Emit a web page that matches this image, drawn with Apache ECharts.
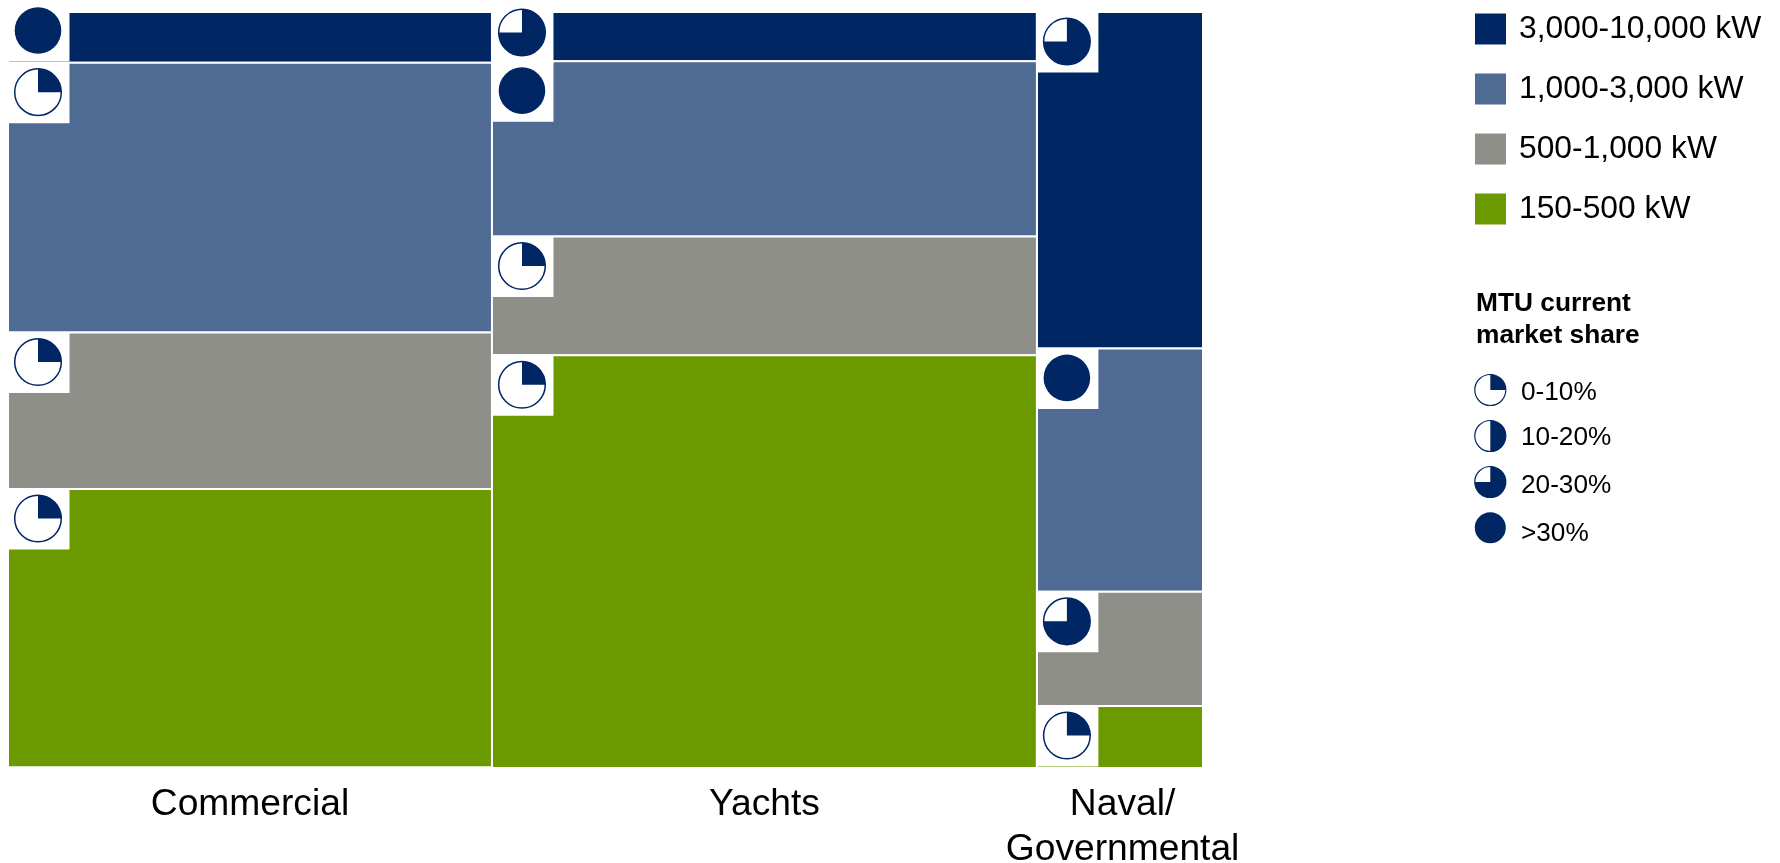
<!DOCTYPE html>
<html>
<head>
<meta charset="utf-8">
<style>html,body{margin:0;padding:0;background:#fff}#chart{width:1780px;height:863px}</style>
<script src="https://cdn.jsdelivr.net/npm/echarts@6/dist/echarts.min.js"></script>
</head>
<body>
<div id="chart"></div>
<script>
// ---- data ----
const categories = ['Commercial', 'Yachts', 'Naval/\nGovernmental'];
const columnWidths = [40.5, 45.6, 13.9];            // share of total market width
const powerClasses = ['3,000-10,000 kW', '1,000-3,000 kW', '500-1,000 kW', '150-500 kW'];
const commercialShares = [6.7, 35.7, 20.7, 36.8];   // share of column height, top to bottom
const yachtShares = [6.5, 23.2, 15.7, 54.6];
const navalShares = [44.5, 32.2, 15.1, 8.2];
// MTU market share level per cell, 1..4 quarters of the pie
const commercialLevels = [4, 1, 1, 1];
const yachtLevels = [3, 4, 1, 1];
const navalLevels = [3, 4, 3, 1];
const shareLabels = ['0-10%', '10-20%', '20-30%', '>30%'];

// ---- style ----
const classColors = ['#002664', '#506b93', '#8f8f89', '#6b9900'];
const NAVY = '#002664';
const FONT = '"Liberation Sans", Arial, sans-serif';
const iconLift = { '0-0': 11, '1-0': 9 };   // pies that sit above the top edge of a short cell
const labelNudge = [0, 0, 0.22];            // small shift of category label along the x axis

function pieChildren(cx, cy, r, quarters, lw) {
  if (quarters >= 4) {
    return [{ type: 'circle', shape: { cx, cy, r }, style: { fill: NAVY } }];
  }
  return [
    { type: 'circle', shape: { cx, cy, r }, style: { fill: '#fff', stroke: NAVY, lineWidth: lw } },
    { type: 'sector', shape: { cx, cy, r, r0: 0, startAngle: -Math.PI / 2,
        endAngle: -Math.PI / 2 + quarters * Math.PI / 2, clockwise: true },
      style: { fill: NAVY } }
  ];
}

// ---- build tables ----
const allShares = [commercialShares, yachtShares, navalShares];
const allLevels = [commercialLevels, yachtLevels, navalLevels];
const columnStarts = columnWidths.map((_, i) => columnWidths.slice(0, i).reduce((a, b) => a + b, 0));
const columnCentres = columnStarts.map((s, i) => s + columnWidths[i] / 2 + labelNudge[i]);

const cellSeries = powerClasses.map((name, rowIdx) => ({
  name,
  type: 'custom',
  itemStyle: { color: classColors[rowIdx] },
  data: allShares.map((shares, colIdx) => {
    const y0 = shares.slice(0, rowIdx).reduce((a, b) => a + b, 0);
    return [columnStarts[colIdx], columnStarts[colIdx] + columnWidths[colIdx], y0, y0 + shares[rowIdx]];
  }),
  encode: { x: [0, 1], y: [2, 3] },
  renderItem(params, api) {
    const a = api.coord([api.value(0), api.value(2)]);
    const b = api.coord([api.value(1), api.value(3)]);
    return { type: 'rect',
      shape: { x: a[0], y: a[1], width: b[0] - a[0], height: b[1] - a[1] },
      style: { fill: classColors[rowIdx], stroke: '#fff', lineWidth: 2 } };
  },
  z: 2
}));

const iconData = [];
allLevels.forEach((levels, colIdx) => levels.forEach((q, rowIdx) => {
  const y0 = allShares[colIdx].slice(0, rowIdx).reduce((a, b) => a + b, 0);
  iconData.push([columnStarts[colIdx], y0, q, iconLift[colIdx + '-' + rowIdx] || 0]);
}));

const iconSeries = {
  name: 'MTU current market share',
  type: 'custom',
  z: 5,
  data: iconData,
  encode: { x: 0, y: 1 },
  renderItem(params, api) {
    const p = api.coord([api.value(0), api.value(1)]);
    const cx = p[0] + 30, cy = p[1] + 29.5 - api.value(3);
    return { type: 'group', children: [
      { type: 'rect', shape: { x: p[0] - 0.5, y: cy - 29.5, width: 62, height: 60.5 }, style: { fill: '#fff' } }
    ].concat(pieChildren(cx, cy, 23.3, api.value(2), 1.5)) };
  }
};

// ---- share legend ----
const shareCentres = [390, 436, 482, 527.7];
const shareTextCentres = [389.5, 435, 483, 531];
const shareLegend = [
  { type: 'text', left: 1476, top: 288, style: { text: 'MTU current\nmarket share', font: 'bold 26.3px ' + FONT, lineHeight: 32, fill: '#000' } }
];
shareLabels.forEach((label, i) => {
  shareLegend.push({ type: 'group', children: pieChildren(1490.3, shareCentres[i], 15.5, i + 1, 1.2) });
  shareLegend.push({ type: 'text', left: 1521, top: shareTextCentres[i] - 10, style: { text: label, font: '26.2px ' + FONT, fill: '#000' } });
});

const chart = echarts.init(document.getElementById('chart'), null, { renderer: 'canvas' });
chart.setOption({
  animation: false,
  backgroundColor: '#fff',
  textStyle: { fontFamily: FONT },
  grid: { left: 8, top: 12, width: 1195, height: 756, outerBoundsMode: 'none' },
  xAxis: {
    type: 'value', min: 0, max: 100,
    axisLine: { show: false }, axisTick: { show: false }, splitLine: { show: false },
    axisLabel: {
      customValues: columnCentres,
      formatter(v) {
        let best = 0;
        columnCentres.forEach((c, i) => { if (Math.abs(c - v) < Math.abs(columnCentres[best] - v)) best = i; });
        return categories[best];
      },
      fontFamily: FONT, fontSize: 37.2, lineHeight: 45, color: '#000', margin: 14, verticalAlign: 'top', align: 'center'
    }
  },
  yAxis: { type: 'value', min: 0, max: 100, inverse: true, show: false },
  legend: {
    orient: 'vertical', left: 1475, top: 13, padding: 0,
    itemWidth: 31, itemHeight: 31, itemGap: 28,
    selectedMode: false,
    icon: 'rect',
    data: powerClasses.map(name => ({ name, icon: 'rect' })),
    textStyle: { fontFamily: FONT, fontSize: 31.8, lineHeight: 29, color: '#000', padding: [2, 0, 0, 8] }
  },
  graphic: { elements: shareLegend },
  series: cellSeries.concat([iconSeries])
});
</script>
</body>
</html>
